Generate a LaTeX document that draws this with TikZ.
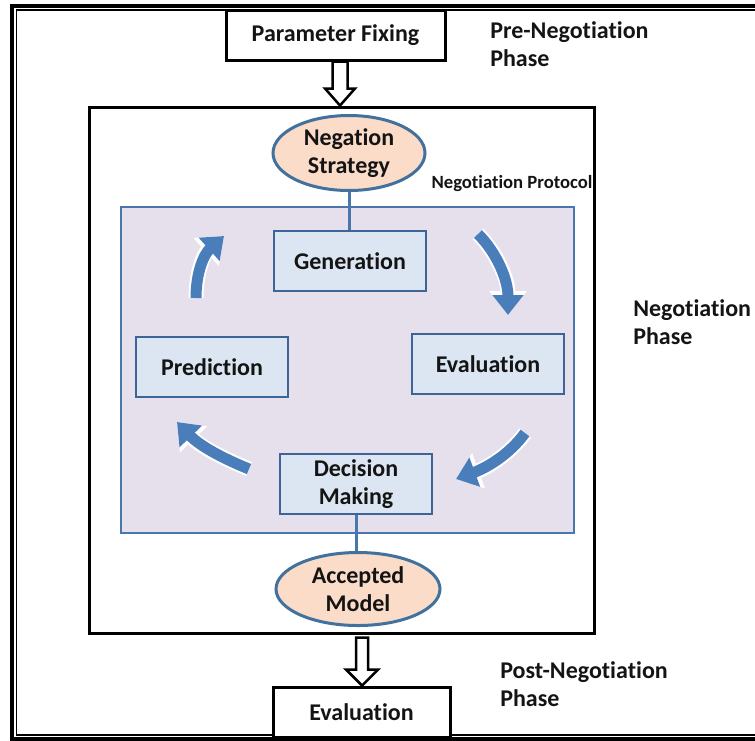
\documentclass[tikz,border=0pt]{standalone}
\usepackage{fontspec}
\setmainfont{Carlito}[Ligatures=NoCommon]
\usetikzlibrary{arrows.meta,shapes.geometric,calc}
\definecolor{lav}{HTML}{E6E0EC}
\definecolor{boxfill}{HTML}{DCE6F2}
\definecolor{boxline}{HTML}{3F6497}
\definecolor{innerline}{HTML}{4A76AE}
\definecolor{peach}{HTML}{FADCC8}
\definecolor{ellline}{HTML}{41719C}
\definecolor{arrowblue}{HTML}{4A7EBB}
\def\u{0.75pt}
\tikzset{
  txt/.style={font=\bfseries\fontsize{18}{21.5}\selectfont, text=black!92},
  blackbox/.style={draw=black, line width=3*\u, fill=white, txt, inner sep=0pt},
  stepbox/.style={draw=boxline, line width=2.5*\u, fill=boxfill, txt, inner sep=0pt,
     minimum width=152*\u, minimum height=60*\u, align=center},
  ell/.style={ellipse, draw=ellline, line width=3*\u, fill=peach, txt, inner sep=0pt, align=center},
  phase/.style={txt, align=left, anchor=north west, inner sep=0pt},
  hollow/.style={draw=black, line width=2.5*\u, fill=white, line join=miter},
  link/.style={draw=innerline, line width=3*\u},
  cyc/.style={draw=arrowblue, line width=11*\u, -{Triangle[width=30*\u,length=20*\u]},
     preaction={draw=white, line width=15*\u, -{Triangle[width=36*\u,length=24*\u]}}}
}
\begin{document}
\begin{tikzpicture}[x=0.75pt,y=-0.75pt]
\useasboundingbox (0,0) rectangle (755,740);
\clip (0,0) rectangle (755,740);
% outer double frame (open at right, cut off)
\draw[line width=4*\u] (760,6) -- (12,6) -- (12,738.5) -- (760,738.5);
\draw[line width=1.5*\u] (760,10) -- (16.5,10) -- (16.5,735) -- (760,735);
% main negotiation box
\node[draw=black, line width=3*\u, fill=white, minimum width=505*\u, minimum height=526*\u, inner sep=0pt] (main) at (341.5,370) {};
% negotiation protocol box
\node[draw=innerline, line width=2.5*\u, fill=lav, minimum width=453*\u, minimum height=326*\u, inner sep=0pt] (proto) at (347.5,370) {};
% top parameter box
\node[blackbox, minimum width=219*\u, minimum height=50*\u] (pf) at (335.5,35) {Parameter Fixing};
\node[blackbox, minimum width=177*\u, minimum height=50*\u] (evalb) at (361.5,712) {Evaluation};
% ellipses
\node[ell, minimum width=152*\u, minimum height=75*\u] (neg) at (349,153) {Negation\\Strategy};
\node[ell, minimum width=164*\u, minimum height=73*\u] (acc) at (358,589) {Accepted\\Model};
% steps
\node[stepbox] (gen) at (350,261) {Generation};
\node[stepbox] (eva) at (488,364) {Evaluation};
\node[stepbox] (pre) at (212,367) {Prediction};
\node[stepbox] (dec) at (356,484) {Decision\\Making};
% links
\draw[link] (neg.south) -- (neg.south |- gen.north);
\draw[link] (dec.south) -- (dec.south |- acc.north);
% labels
\node[font=\bfseries\fontsize{14}{16}\selectfont, text=black!92, inner sep=0pt] (np) at (512,184) {Negotiation Protocol};
\node[phase] (prep) at (490,21) {Pre-Negotiation\\Phase};
\node[phase] (negp) at (633,299) {Negotiation\\Phase};
\node[phase] (postp) at (500,661) {Post-Negotiation\\Phase};
% hollow arrows
\coordinate (t0) at ($(pf.south)+(4.5,0)$);
\coordinate (t1) at (t0 |- main.north);
\draw[hollow] ($(t0)+(-7.5,0)$) -- ($(t1)+(-7.5,-17)$) -- ($(t1)+(-15,-17)$) -- (t1)
   -- ($(t1)+(15,-17)$) -- ($(t1)+(7.5,-17)$) -- ($(t0)+(7.5,0)$) -- cycle;
\coordinate (b0) at ($(main.south)+(20.5,3)$);
\coordinate (b1) at (b0 |- evalb.north);
\draw[hollow] ($(b0)+(-6,0)$) -- ($(b1)+(-6,-16)$) -- ($(b1)+(-16,-16)$) -- (b1)
   -- ($(b1)+(16,-16)$) -- ($(b1)+(6,-16)$) -- ($(b0)+(6,0)$) -- cycle;
% cycle arrows
\draw[cyc] (196,298) .. controls (196,272) and (204,254) .. (224,236);
\draw[cyc] (478,234) .. controls (497,253) and (508,280) .. (508,315);
\draw[cyc] (525,433) .. controls (509,455) and (486,468) .. (456,479);
\draw[cyc] (249,469) .. controls (222,458) and (200,446) .. (177,422);
\end{tikzpicture}
\end{document}
